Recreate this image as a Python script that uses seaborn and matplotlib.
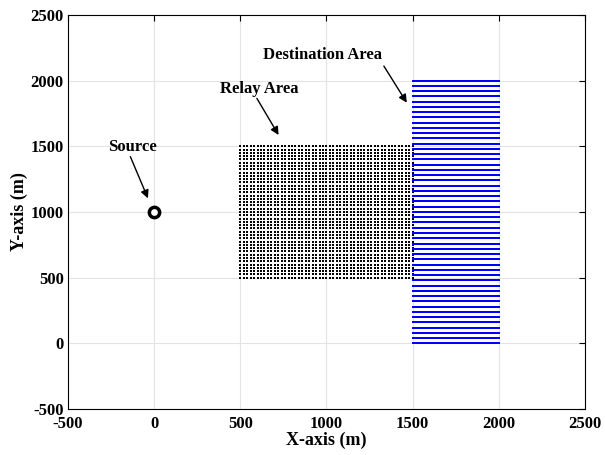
import numpy as np
import pandas as pd
import matplotlib
matplotlib.use("Agg")
import matplotlib.pyplot as plt
import seaborn as sns

# Data
source_x = [0]
source_y = [1000]
relay_x_vals = list(range(500, 1501, 20))
relay_y_vals = list(range(500, 1501, 25))
dest_x_vals = list(range(1500, 2001, 5))
dest_y_vals = list(range(0, 2001, 40))
x_ticks = [-500, 0, 500, 1000, 1500, 2000, 2500]
y_ticks = [-500, 0, 500, 1000, 1500, 2000, 2500]

sns.set_theme(style="white")
plt.rcParams['font.family'] = ['Liberation Serif', 'DejaVu Serif']
plt.rcParams['font.weight'] = 'bold'
plt.rcParams['text.color'] = 'black'
plt.rcParams['axes.labelcolor'] = 'black'

rx, ry = np.meshgrid(relay_x_vals, relay_y_vals)
relay = pd.DataFrame({"x": rx.ravel(), "y": ry.ravel()})
dx, dy = np.meshgrid(dest_x_vals, dest_y_vals)
dest = pd.DataFrame({"x": dx.ravel(), "y": dy.ravel()})
src = pd.DataFrame({"x": source_x, "y": source_y})

fig = plt.figure(figsize=(6.05, 4.55), dpi=100)
ax = fig.add_axes([0.1124, 0.1011, 0.8545, 0.866])

sns.scatterplot(data=relay, x="x", y="y", ax=ax, color="black", marker="s",
                s=2.6, linewidth=0, zorder=3)
sns.scatterplot(data=dest, x="x", y="y", ax=ax, color="blue", marker="s",
                s=3.0, linewidth=0, zorder=3)
sns.scatterplot(data=src, x="x", y="y", ax=ax, marker="o", s=55,
                facecolor="white", edgecolor="black", linewidth=2.5, zorder=4)

ax.set_xlim(-500, 2500)
ax.set_ylim(-500, 2500)
ax.set_xticks(x_ticks)
ax.set_yticks(y_ticks)
ax.set_xticklabels([str(t) for t in x_ticks], fontsize=12, fontweight='bold')
ax.set_yticklabels([str(t) for t in y_ticks], fontsize=12, fontweight='bold')
ax.grid(True, color="#e3e3e3", linewidth=0.8)
ax.set_axisbelow(True)
ax.tick_params(axis="x", direction="in", length=4, width=0.8, top=True,
               pad=5, colors="black")
ax.tick_params(axis="y", direction="in", length=4, width=0.8, right=True,
               pad=3, colors="black")
for sp in ax.spines.values():
    sp.set_color("black")
    sp.set_linewidth(0.8)
ax.set_xlabel("X-axis (m)", fontsize=13, fontweight='bold', labelpad=0, color="black")
ax.set_ylabel("Y-axis (m)", fontsize=13, fontweight='bold', labelpad=2, color="black")

arrow = dict(arrowstyle="-|>", color="black", lw=1.0, mutation_scale=12,
             shrinkA=0, shrinkB=0)
ax.text(-124, 1497, "Source", fontsize=12, fontweight='bold', ha="center", va="center", color="black")
ax.annotate("", xy=(-36, 1104), xytext=(-138, 1421), arrowprops=arrow)
ax.text(610, 1936, "Relay Area", fontsize=12, fontweight='bold', ha="center", va="center", color="black")
ax.annotate("", xy=(722, 1586), xytext=(596, 1865), arrowprops=arrow)
ax.text(977, 2195, "Destination Area", fontsize=12, fontweight='bold', ha="center", va="center", color="black")
ax.annotate("", xy=(1466, 1832), xytext=(1333, 2111), arrowprops=arrow)

fig.savefig("out.png", dpi=100)
